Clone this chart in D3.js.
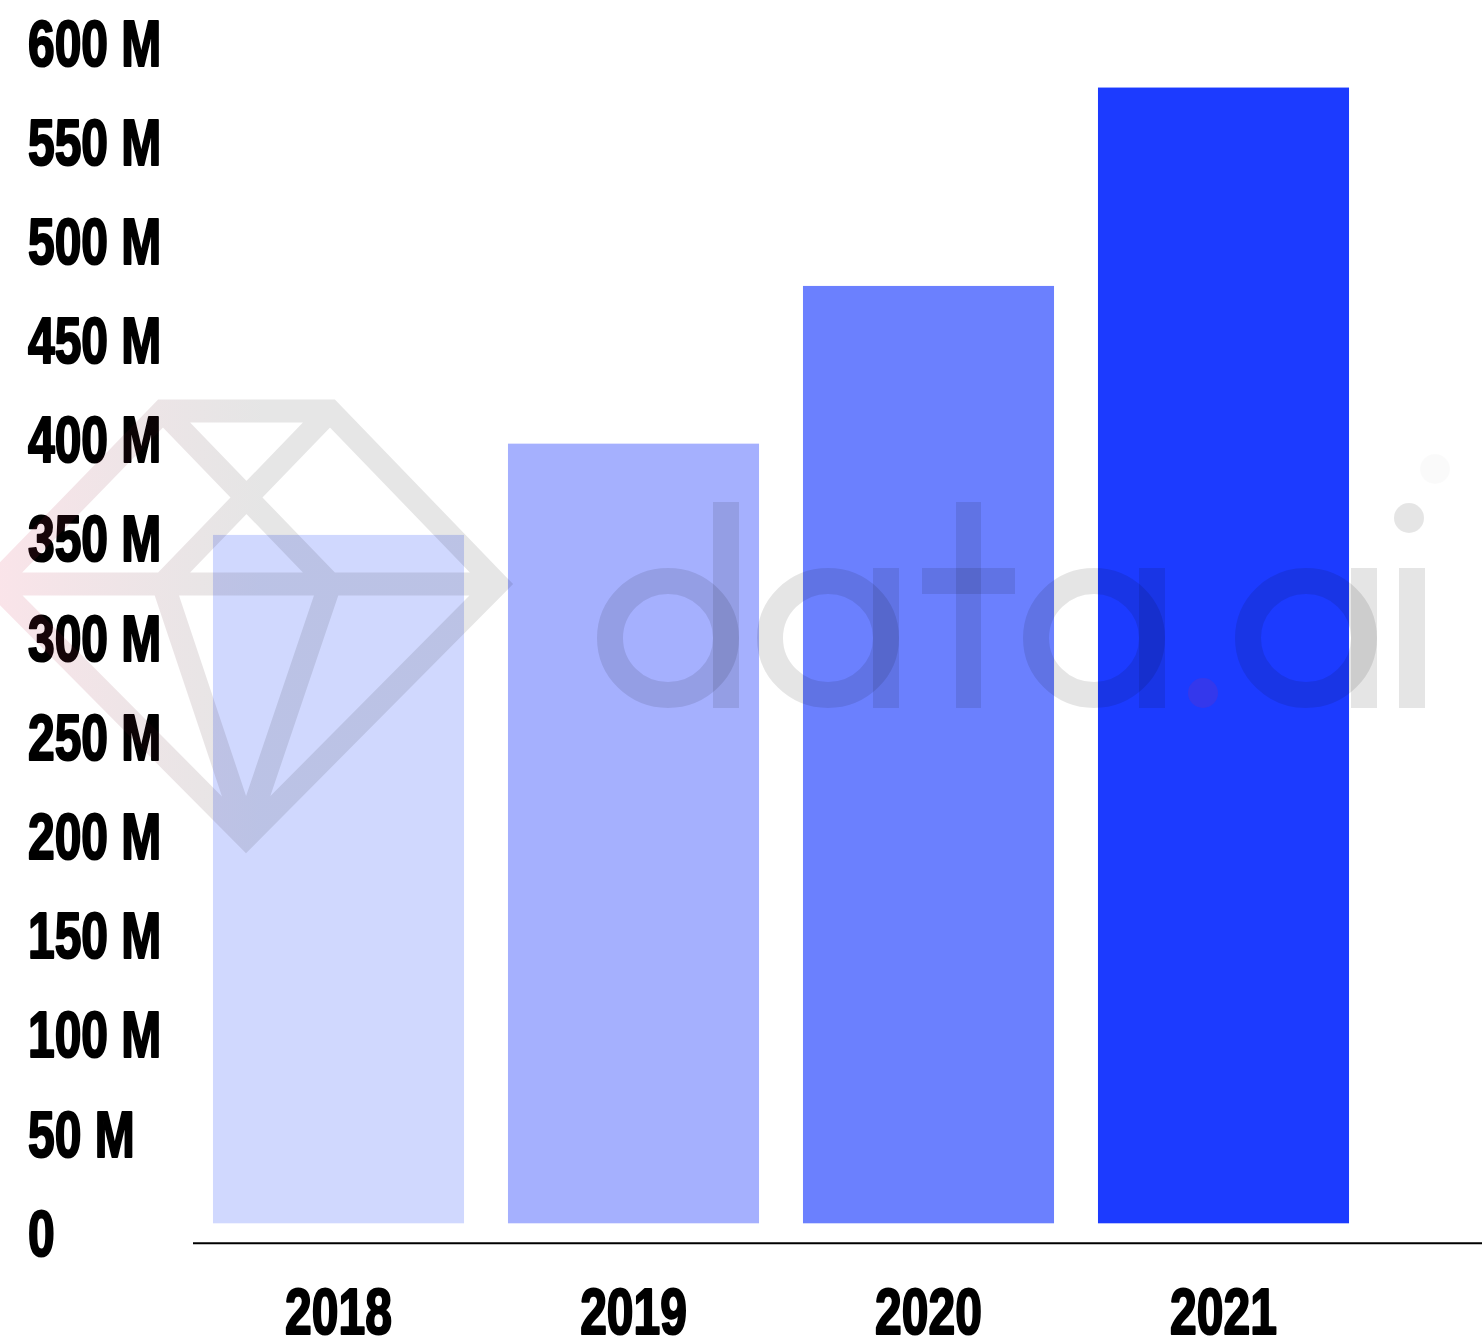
<!DOCTYPE html>
<html>
<head>
<meta charset="utf-8">
<script src="https://cdn.jsdelivr.net/npm/d3@7"></script>
<style>
  html, body { margin: 0; padding: 0; background: #fff; }
  svg { display: block; }
  .lbl { font-family: "Liberation Sans", Arial, sans-serif; font-weight: 700; font-size: 64px; fill: #000; stroke: #000; stroke-width: 2.2px; stroke-linejoin: round; }
</style>
</head>
<body>
<svg id="chart" width="1482" height="1343"></svg>
<script>
// Yearly totals, millions
const years = ["2018", "2019", "2020", "2021"];
const totals = [347, 393, 472.5, 572.5];
const barColors = ["#d0d8fe", "#a5b0fe", "#6b80fe", "#1c3bff"];
const tickValues = [0, 50, 100, 150, 200, 250, 300, 350, 400, 450, 500, 550, 600];
const tickLabel = v => v === 0 ? "0" : v + " M";

const W = 1482, H = 1343;
const squeeze = 0.75;          // horizontal condensing of label text
const svg = d3.select("#chart");

const y = d3.scaleLinear().domain([0, 600]).range([1223.3, 33]);
const x = d3.scaleBand().domain(years).range([191, 1371])
  .paddingInner(0.149).paddingOuter(0.0745);

// bars
svg.append("g").selectAll("rect")
  .data(years)
  .join("rect")
  .attr("x", d => x(d))
  .attr("width", x.bandwidth())
  .attr("y", (d, i) => y(totals[i]))
  .attr("height", (d, i) => y(0) - y(totals[i]))
  .attr("fill", (d, i) => barColors[i]);

// value axis: labels only, left aligned
const yAxis = svg.append("g")
  .call(d3.axisLeft(y).tickValues(tickValues).tickFormat(tickLabel).tickSize(0));
yAxis.select(".domain").remove();
yAxis.selectAll("text")
  .attr("class", "lbl")
  .attr("font-size", null).attr("font-family", null)
  .attr("text-anchor", "start")
  .attr("x", 28 / squeeze)
  .attr("y", 32)
  .attr("dy", null)
  .attr("transform", `scale(${squeeze},1)`);

// baseline rule
svg.append("line")
  .attr("x1", 193).attr("x2", W)
  .attr("y1", 1243.3).attr("y2", 1243.3)
  .attr("stroke", "#000").attr("stroke-width", 2);

// year axis
const xAxis = svg.append("g")
  .attr("transform", "translate(0,1334)")
  .call(d3.axisBottom(x).tickSize(0));
xAxis.select(".domain").remove();
xAxis.selectAll("text")
  .attr("class", "lbl")
  .attr("font-size", null).attr("font-family", null)
  .attr("text-anchor", "middle")
  .attr("y", 0).attr("dy", null)
  .attr("transform", `scale(${squeeze},1)`)
  .attr("x", 0);
xAxis.selectAll(".tick").each(function () {
  const t = d3.select(this);
  const m = /translate\(([-\d.]+)/.exec(t.attr("transform"));
  const cx = +m[1];
  t.attr("transform", null);
  t.select("text").attr("x", cx / squeeze);
});

// brand watermark laid over the plot
const defs = svg.append("defs");
const grad = defs.append("linearGradient")
  .attr("id", "gemFade").attr("gradientUnits", "userSpaceOnUse")
  .attr("x1", -10).attr("y1", 0).attr("x2", 260).attr("y2", 0);
grad.append("stop").attr("offset", 0).attr("stop-color", "#e0305a").attr("stop-opacity", 0.13);
grad.append("stop").attr("offset", 1).attr("stop-color", "#000").attr("stop-opacity", 0.1);

const mark = svg.append("g").attr("pointer-events", "none");

const gem = d3.path();
gem.moveTo(163, 411); gem.lineTo(330, 411); gem.lineTo(497, 584); gem.lineTo(246, 837); gem.lineTo(-5, 584); gem.closePath();
gem.moveTo(-5, 584); gem.lineTo(497, 584);
gem.moveTo(163, 411); gem.lineTo(330, 584);
gem.moveTo(330, 411); gem.lineTo(163, 584);
gem.moveTo(163, 584); gem.lineTo(246, 832);
gem.moveTo(330, 584); gem.lineTo(246, 832);
mark.append("path")
  .attr("d", gem.toString())
  .attr("fill", "none")
  .attr("stroke", "url(#gemFade)")
  .attr("stroke-width", 23)
  .attr("stroke-linejoin", "miter");

// wordmark "data.ai" built from bowls, stems and dots
const inkA = "rgba(0,0,0,0.1)";
const xTop = 568, base = 708, asc = 502, stemW = 26;
const bowls = [739, 899, 1165, 1377];          // right edge of each bowl's stem
const tallStem = [true, false, false, false];
const word = mark.append("g").attr("fill", inkA);
bowls.forEach((r, i) => {
  const cx = r - stemW - 45, cy = (xTop + base) / 2;
  word.append("ellipse")
    .attr("cx", cx).attr("cy", cy).attr("rx", 58).attr("ry", 57)
    .attr("fill", "none").attr("stroke", inkA).attr("stroke-width", 26);
  word.append("rect")
    .attr("x", r - stemW).attr("width", stemW)
    .attr("y", tallStem[i] ? asc : xTop).attr("height", base - (tallStem[i] ? asc : xTop));
});
// t
word.append("rect").attr("x", 956).attr("width", 25).attr("y", asc).attr("height", base - asc);
word.append("rect").attr("x", 922).attr("width", 93).attr("y", xTop).attr("height", 26);
// i
word.append("rect").attr("x", 1399).attr("width", 26).attr("y", xTop).attr("height", base - xTop);
word.append("circle").attr("cx", 1409).attr("cy", 518).attr("r", 15);
// accent dots
mark.append("circle").attr("cx", 1203).attr("cy", 693).attr("r", 15).attr("fill", "rgba(220,40,110,0.13)");
mark.append("circle").attr("cx", 1435).attr("cy", 469).attr("r", 15).attr("fill", "rgba(0,0,0,0.02)");
</script>
</body>
</html>
